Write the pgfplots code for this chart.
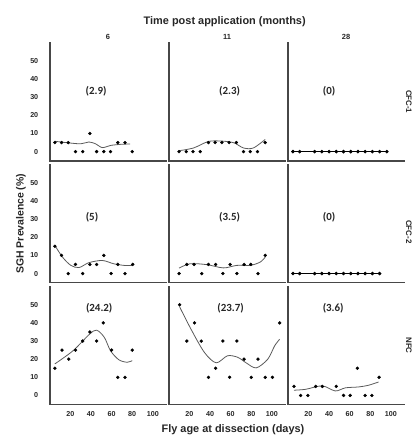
\documentclass[border=0pt]{standalone}
\usepackage{pgfplots}
\pgfplotsset{compat=1.18}
\usepgfplotslibrary{groupplots}
\usepackage{fontspec}
\setmainfont{Liberation Sans}
\newfontfamily\annfont{Carlito}
\definecolor{axgray}{HTML}{474747}
\definecolor{curvegray}{HTML}{5A5A5A}
\definecolor{txt}{HTML}{262626}
\begin{document}
\begin{tikzpicture}
\tikzset{
  pts/.style={only marks, mark=*, mark size=1.5pt, black},
  crv/.style={smooth, no marks, curvegray, line width=0.8pt},
  flat/.style={mark=*, mark size=1.5pt, black, line width=0.6pt, mark options={black}},
  ann/.style={font=\annfont\bfseries\fontsize{11}{13}\selectfont, text=txt},
  rlab/.style={font=\bfseries\fontsize{8}{9}\selectfont, text=txt, rotate=-90, anchor=center},
  clab/.style={font=\bfseries\fontsize{7.5}{9}\selectfont, text=txt, above, inner sep=3pt},
}
\begin{groupplot}[
  group style={group size=3 by 3, horizontal sep=2.5pt, vertical sep=4pt, group name=G,
     xticklabels at=edge bottom, yticklabels at=edge left},
  width=117.3pt, height=118.7pt, scale only axis,
  xmin=0, xmax=113, ymin=-5, ymax=60,
  axis x line*=bottom, axis y line*=left,
  axis line style={-, line width=1.7pt, axgray, line cap=rect},
  xtick={20,40,60,80,100}, ytick={0,10,...,50},
  major tick length=0pt,
  /pgf/number format/assume math mode=true,
  tick label style={font=\bfseries\fontsize{7.2}{8}\selectfont, text=txt},
  yticklabel style={xshift=-8pt},
  xticklabel style={yshift=-3pt},
  clip=false,
]
% ---------- Row 1: CFC-1 ----------
\nextgroupplot
\addplot[crv] coordinates {(5,5.7)(17,4.9)(30,4.3)(38,5.3)(44.5,4.3)(51,2.2)(59,3.4)(68.6,4)(78,4.2)};
\addplot[pts] coordinates {(5,5)(11.5,5)(18,5)(25,0)(32,0)(39,10)(45.5,0)(52.5,0)(59,0)(66,5)(73,5)(80,0)};
\node[ann] at (axis cs:45,33) {(2.9)};
\node[clab] at (rel axis cs:0.5,1) {6};
\nextgroupplot
\addplot[crv] coordinates {(10,0.5)(24,2)(38.5,5.6)(51.5,5.8)(63,4.9)(72.5,2)(82,2)(93.5,6.7)};
\addplot[pts] coordinates {(10,0)(17,0)(23.5,0)(30.5,0)(38.5,5)(45,5)(51.5,5)(58.5,5)(65.5,5)(72.5,0)(79,0)(86,0)(93.5,5)};
\node[ann] at (axis cs:59,33) {(2.3)};
\node[clab] at (rel axis cs:0.5,1) {11};
\node[font=\bfseries\fontsize{11}{13}\selectfont, text=txt] at ([yshift=21pt]rel axis cs:0.48,1) {Time post application (months)};
\nextgroupplot
\addplot[flat] coordinates {(5,0)(11.5,0)(26,0)(33,0)(40,0)(47,0)(54,0)(61,0)(68,0)(75,0)(82,0)(89,0)(96,0)};
\node[ann] at (axis cs:40,33) {(0)};
\node[clab] at (rel axis cs:0.5,1) {28};
\node[rlab] at ([xshift=4.5pt]rel axis cs:1,0.5) {CFC-1};
% ---------- Row 2: CFC-2 ----------
\nextgroupplot
\addplot[crv] coordinates {(5,15.5)(12.5,9)(20.5,4.5)(28.5,3.3)(38,6)(51,7.2)(62,5.4)(72,4.5)(80,4.5)};
\addplot[pts] coordinates {(5,15)(11.5,10)(18,0)(25,5)(32,0)(39,5)(45.5,5)(52.5,10)(59.5,0)(66,5)(73,0)(80.5,5)};
\node[ann] at (axis cs:41,31) {(5)};
\node[font=\bfseries\fontsize{10.5}{12}\selectfont, text=txt, rotate=90, anchor=center] at ([xshift=-29pt]rel axis cs:0,0.5) {SGH Prevalence (\%)};
\nextgroupplot
\addplot[crv] coordinates {(10,3)(20.7,5.4)(37,4.9)(53,3.1)(66,4.5)(79,4.5)(88.6,6.3)(93.5,9)};
\addplot[pts] coordinates {(10,0)(17.5,5)(24.5,5)(32,0)(38.5,5)(45.5,5)(52.5,0)(59.5,5)(66,0)(73,5)(79.5,5)(86.5,0)(93.5,10)};
\node[ann] at (axis cs:59,31) {(3.5)};
\nextgroupplot
\addplot[flat] coordinates {(5,0)(11.5,0)(26,0)(33,0)(40,0)(47,0)(54,0)(61,0)(68,0)(75,0)(82,0)(89,0)};
\node[ann] at (axis cs:40,31) {(0)};
\node[rlab] at ([xshift=4.5pt]rel axis cs:1,0.43) {CFC-2};
% ---------- Row 3: NFC ----------
\nextgroupplot
\addplot[crv] coordinates {(5,17.4)(22.5,24.6)(38.5,33.7)(45.5,36)(53,32)(59,24.6)(67,19.7)(75,18.3)(80,19.2)};
\addplot[pts] coordinates {(5,15)(12,25)(18.5,20)(25,25)(32,30)(39,35)(45.5,30)(52,40)(60,25)(66,10)(73,10)(80,25)};
\node[ann] at (axis cs:48,48) {(24.2)};
\nextgroupplot
\addplot[crv] coordinates {(10.4,49)(21.7,36.4)(34.6,23.7)(46,18)(57,21.9)(67,21)(75,18)(84.8,15.2)(96,20)(102.6,27.3)(107.5,31)};
\addplot[pts] coordinates {(10.5,50)(17.5,30)(25,40)(31.5,30)(38.5,10)(45.5,15)(52.5,30)(59,10)(66,30)(73,20)(80,10)(86.5,20)(93.5,10)(100.5,10)(107.5,40)};
\node[ann] at (axis cs:60,48) {(23.7)};
\node[font=\bfseries\fontsize{11}{13}\selectfont, text=txt, anchor=base] at ([xshift=6pt, yshift=-28pt]rel axis cs:0.5,0) {Fly age at dissection (days)};
\nextgroupplot
\addplot[crv] coordinates {(6,2.9)(17.3,3.4)(33.4,5.3)(46,2.5)(55.8,4.2)(68.6,4.7)(78,5.6)(88,7.4)};
\addplot[pts] coordinates {(6,5)(12.5,0)(19.5,0)(27,5)(33.5,5)(47,5)(54,0)(60.5,0)(67.5,15)(75,0)(81.5,0)(88.5,10)};
\node[ann] at (axis cs:44,48) {(3.6)};
\node[rlab] at ([xshift=4.5pt]rel axis cs:1,0.5) {NFC};
\end{groupplot}
\path (G c1r1.north west) ++(-50pt,43pt) rectangle ++(417pt,-438pt);
\end{tikzpicture}
\end{document}
